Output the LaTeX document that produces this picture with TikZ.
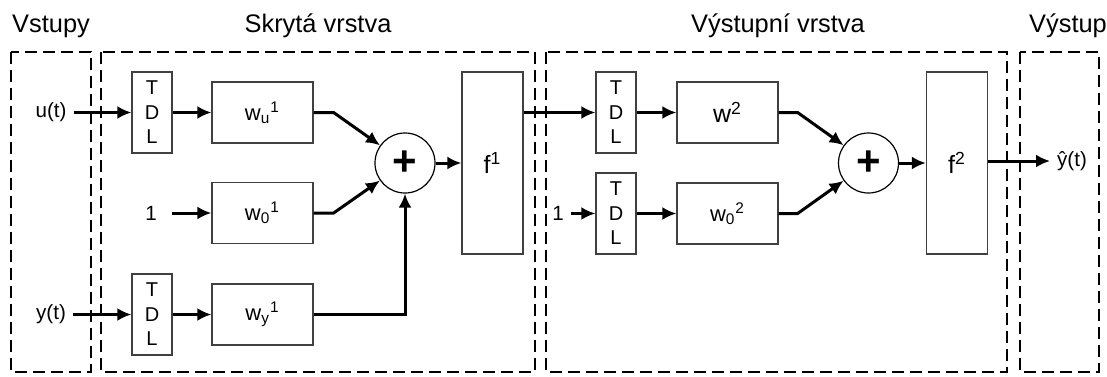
\documentclass[tikz,border=0pt]{standalone}
\usepackage{fontspec}
\setmainfont{Liberation Sans}
\usetikzlibrary{arrows.meta}

\begin{document}
\begin{tikzpicture}[
    x=0.5pt, y=-0.5pt,
    tdl/.style={draw=black!75, line width=0.6pt, font=\fontsize{10}{12.25}\selectfont,
                inner sep=0pt, minimum width=20pt, minimum height=40.5pt, align=center},
    wbox/.style={draw=black!75, line width=0.6pt, font=\fontsize{11}{12}\selectfont,
                 inner sep=0pt, minimum width=50.5pt, minimum height=30.5pt},
    fbox/.style={draw=black!75, line width=0.6pt, font=\fontsize{12.5}{14}\selectfont,
                 inner sep=0pt, minimum width=30.5pt, minimum height=91pt},
    sum/.style={circle, draw, line width=0.6pt, inner sep=0pt, minimum size=30pt,
                font=\fontsize{21}{21}\selectfont\bfseries},
    sig/.style={font=\fontsize{10.3}{11}\selectfont},
    ttl/.style={anchor=base, font=\fontsize{12.7}{14}\selectfont},
    frame/.style={dash pattern=on 6pt off 3pt, line width=0.8pt},
    >={Latex[length=7pt,width=6.5pt]},
    link/.style={->, line width=1.5pt}
  ]
  \useasboundingbox (0,0) rectangle (1107,376);
  % Layer frames
  \foreach \xa/\xb in {11/91, 101/535, 546/1007, 1020/1099}{
    \draw[frame] (\xa,52) rectangle (\xb,372);
  }
  % Titles
  \node[ttl] (tin)  at (51,32)   {Vstupy};
  \node[ttl] (thid) at (318,32)  {Skrytá vrstva};
  \node[ttl] (tout) at (778,32)  {Výstupní vrstva};
  \node[ttl] (tres) at (1068,32) {Výstup};
  % Inputs
  \node[sig] (ut) at (51,112.5) {u(t)};
  \node[sig] (yt) at (51,314.5) {y(t)};
  % Hidden layer
  \node[tdl]  (tdlu)  at (152,112.5)   {T\\D\\L};
  \node[tdl]  (tdly)  at (152,314.5)   {T\\D\\L};
  \node[sig]  (one1)  at (151,213)     {1};
  \node[wbox] (wu)    at (262.5,112.5) {w\textsubscript{u}\textsuperscript{1}};
  \node[wbox] (wzero) at (262.5,213)   {w\textsubscript{0}\textsuperscript{1}};
  \node[wbox] (wy)    at (262.5,314.5) {w\textsubscript{y}\textsuperscript{1}};
  \node[sum]  (sumA)  at (405,163)     {+};
  \node[fbox] (fA)    at (492.5,163)   {f\textsuperscript{1}};
  % Output layer
  \node[tdl]  (tdlA) at (616,112.5)   {T\\D\\L};
  \node[tdl]  (tdlB) at (616,213.5)   {T\\D\\L};
  \node[sig]  (one2) at (558,213.5)   {1};
  \node[wbox, font=\fontsize{12.5}{14}\selectfont] (wA) at (727.5,112.5) {w\textsuperscript{2}};
  \node[wbox] (wB)   at (727.5,213.5) {w\textsubscript{0}\textsuperscript{2}};
  \node[sum]  (sumB) at (868.5,163)   {+};
  \node[fbox] (fB)   at (957,163)     {f\textsuperscript{2}};
  % Output
  \node[sig] (yhat) at (1072,161) {ŷ(t)};
  % Hidden layer links
  \draw[link] (ut.east) -- (tdlu.west);
  \draw[link] (yt.east) -- (tdly.west);
  \draw[link] (tdlu.east) -- (wu.west);
  \draw[link] (tdly.east) -- (wy.west);
  \draw[link, shorten <=4pt] (one1.east) -- (wzero.west);
  \draw[link] (wu.east) -- ++(20,0) -- (sumA);
  \draw[link] (wzero.east) -- ++(20,0) -- (sumA);
  \draw[link] (wy.east) -| (sumA.south);
  \draw[link] (sumA) -- (fA);
  % Output layer links
  \draw[link] (fA.east |- tdlA.west) -- (tdlA.west);
  \draw[link] (one2.east) -- (tdlB.west);
  \draw[link] (tdlA.east) -- (wA.west);
  \draw[link] (tdlB.east) -- (wB.west);
  \draw[link] (wA.east) -- ++(19,0) -- (sumB);
  \draw[link] (wB.east) -- ++(19,0) -- (sumB);
  \draw[link] (sumB) -- (fB);
  \draw[link] (fB.east |- yhat.west) -- (yhat.west);
\end{tikzpicture}
\end{document}
